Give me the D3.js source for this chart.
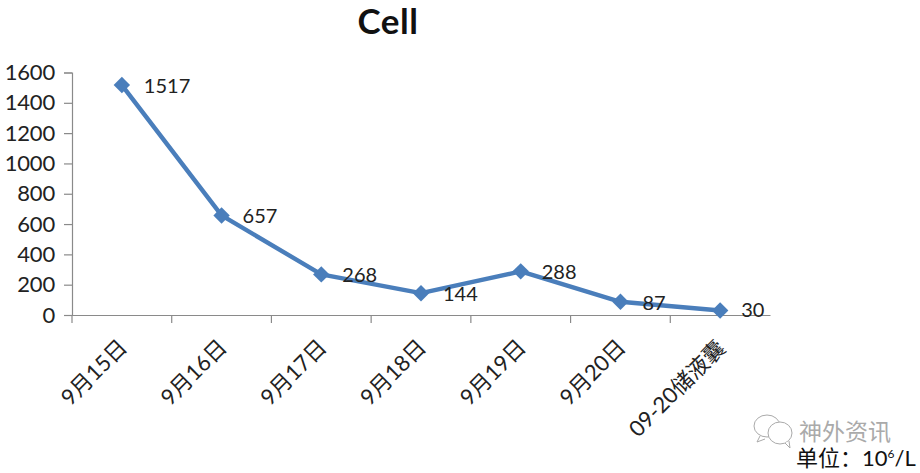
<!DOCTYPE html>
<html><head><meta charset="utf-8">
<script src="https://cdn.jsdelivr.net/npm/d3@7"></script>
<style>
html,body{margin:0;background:#fff;overflow:hidden}
text{font-family:Lato,"Noto Sans CJK SC",sans-serif;fill:#222}
</style></head><body><svg id="c" width="920" height="473"></svg>
<script>
const categories=["9月15日","9月16日","9月17日","9月18日","9月19日","9月20日","09-20储液囊"];
const values=[1517,657,268,144,288,87,30];
const yTicks=[0,200,400,600,800,1000,1200,1400,1600];
const labelOffsets=[[22,1],[21,1],[21,1],[22,1],[21,1],[22,1],[21,0]];
const svg=d3.select("#c");
const x=d3.scaleBand().domain(categories).range([72,770]);
const y=d3.scaleLinear().domain([0,1600]).range([315,72.5]);
const axisColor="#8a8a8a";

const gy=svg.append("g").attr("transform","translate(72,0)")
  .call(d3.axisLeft(y).tickValues(yTicks).tickSize(8).tickPadding(9).tickFormat(d3.format("d")));
gy.selectAll("text").style("font-size","22px").attr("letter-spacing","-0.2");
const gx=svg.append("g").attr("transform","translate(0,315)")
  .call(d3.axisBottom(x).tickSize(0).tickFormat(""));
const edges=categories.map(c=>x(c));
gx.selectAll("line.edge").data(edges).join("line").attr("class","edge")
  .attr("x1",d=>d).attr("x2",d=>d).attr("y1",0).attr("y2",8);
svg.selectAll(".domain,.tick line,line.edge").attr("stroke",axisColor).attr("stroke-width",1.2);

svg.selectAll("text.cat").data(categories).join("text").attr("class","cat")
  .attr("text-anchor","end").style("font-size","22px")
  .attr("transform",d=>`translate(${x(d)+x.bandwidth()/2-5},${d.length>6?338:337}) rotate(-45)`)
  .attr("dy","0.75em").text(d=>d);

const cx=(d,i)=>x(categories[i])+x.bandwidth()/2;
svg.append("path").datum(values)
  .attr("d",d3.line().x(cx).y(d=>y(d)))
  .attr("fill","none").attr("stroke","#4a7ebb").attr("stroke-width",4.4).attr("stroke-linejoin","round");
svg.selectAll("path.pt").data(values).join("path").attr("class","pt")
  .attr("d",d3.symbol(d3.symbolSquare,135)).attr("fill","#4a7ebb")
  .attr("transform",(d,i)=>`translate(${cx(d,i)},${y(d)}) rotate(45)`);
svg.selectAll("text.val").data(values).join("text").attr("class","val")
  .attr("x",(d,i)=>cx(d,i)+labelOffsets[i][0]).attr("y",(d,i)=>y(d)+labelOffsets[i][1])
  .attr("dy","0.35em").style("font-size","20px").text(d=>d);

svg.append("text").attr("x",388).attr("y",34).attr("text-anchor","middle")
  .style("font-size","35px").style("font-weight","700").style("letter-spacing","0.5px").style("fill","#111").text("Cell");

/* watermark */
const wm=svg.append("g").attr("fill","none").attr("stroke","#aaa").attr("stroke-width",1);
wm.append("ellipse").attr("cx",767).attr("cy",426).attr("rx",13).attr("ry",11);
wm.append("path").attr("d","M760 436l-3 6 8-3").attr("fill","#fff");
wm.append("ellipse").attr("cx",780).attr("cy",433).attr("rx",12).attr("ry",11).attr("fill","#fff");
wm.append("path").attr("d","M785 443l5 5-1-7").attr("fill","#fff");
svg.append("text").attr("x",799).attr("y",440).style("font-size","23px").style("fill","#aaa").text("神外资讯");
const unit=svg.append("text").attr("x",796).attr("y",466).style("font-size","22px").style("fill","#111");
unit.append("tspan").text("单位：10");
unit.append("tspan").attr("dy",-8).style("font-size","12px").text("6");
unit.append("tspan").attr("dy",8).text("/L");
</script></body></html>
